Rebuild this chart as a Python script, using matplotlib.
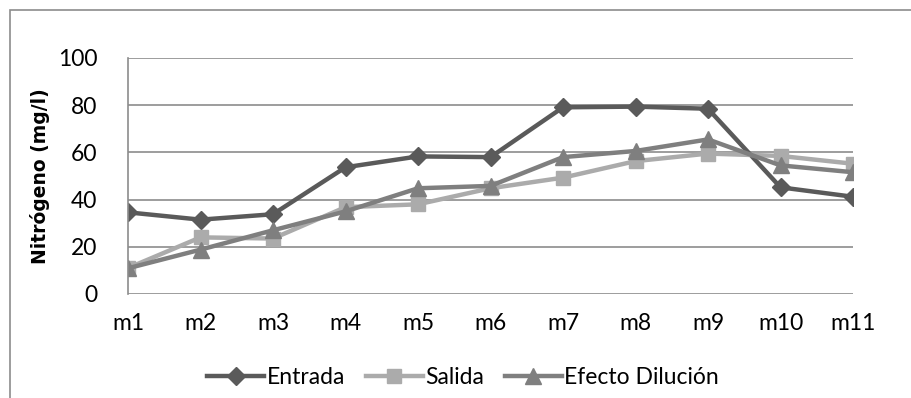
import matplotlib
matplotlib.use("Agg")
import matplotlib.pyplot as plt
from matplotlib.patches import Rectangle

muestras = ["m1", "m2", "m3", "m4", "m5", "m6", "m7", "m8", "m9", "m10", "m11"]
entrada = [34.6, 31.5, 33.8, 53.7, 58.3, 58.0, 79.1, 79.4, 78.5, 45.2, 41.2]
salida = [11.0, 24.0, 23.5, 36.8, 38.0, 44.8, 49.3, 56.3, 59.5, 58.5, 55.2]
dilucion = [10.9, 18.8, 27.0, 35.0, 44.8, 45.8, 58.0, 60.6, 65.5, 54.5, 51.6]

plt.rcParams["font.family"] = ["Lato", "DejaVu Sans"]

fig = plt.figure(figsize=(9.11, 3.98), dpi=100)
ax = fig.add_axes([128 / 911, 1 - 294 / 398, (853 - 128) / 911, (294 - 58) / 398])

x = range(len(muestras))
ax.plot(x, entrada, color="#5a5a5a", lw=3.2, marker="D", ms=9, label="Entrada")
ax.plot(x, salida, color="#ababab", lw=3.2, marker="s", ms=10, label="Salida")
ax.plot(x, dilucion, color="#7f7f7f", lw=3.2, marker="^", ms=11, label="Efecto Dilución")

ax.set_xlim(0, len(muestras) - 1)
ax.set_ylim(0, 100)
ax.set_yticks([0, 20, 40, 60, 80, 100])
ax.set_xticks(list(x))
ax.set_xticklabels(muestras)
ax.grid(axis="y", color="#8c8c8c", lw=1.2)
ax.set_axisbelow(True)
for side in ["top", "right", "bottom"]:
    ax.spines[side].set_visible(False)
ax.spines["left"].set_color("#8c8c8c")
ax.spines["left"].set_linewidth(1.2)
ax.tick_params(axis="both", length=0, labelsize=16.5, colors="black")
ax.tick_params(axis="x", pad=14)
ax.tick_params(axis="y", pad=22)
ax.set_ylabel("Nitrógeno (mg/l)", fontsize=13.5, fontweight="bold",
              family=["DejaVu Sans"])
ax.yaxis.set_label_coords(-0.108, 0.5)

ax.legend(loc="center", bbox_to_anchor=(463 / 911, 1 - 378 / 398),
          bbox_transform=fig.transFigure, ncol=3, frameon=False, fontsize=16.5,
          handlelength=2.5, handletextpad=0.1, columnspacing=0.9)

fig.add_artist(Rectangle((9.5 / 911, -0.1), 2.0, 1 - 10 / 398 + 0.1,
                         transform=fig.transFigure, fill=False,
                         edgecolor="#8c8c8c", lw=1.2))

fig.savefig("out.png", dpi=100)
